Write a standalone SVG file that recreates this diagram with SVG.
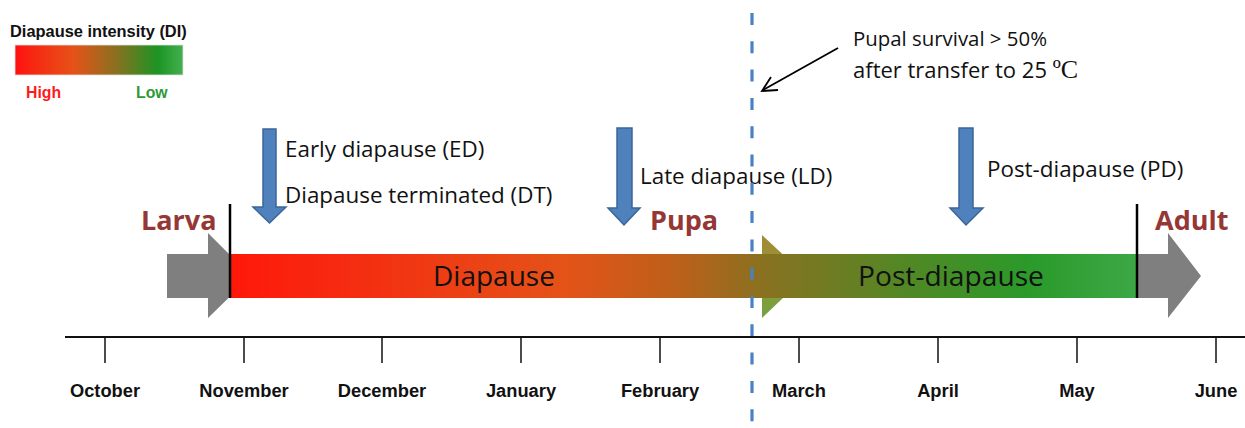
<svg xmlns="http://www.w3.org/2000/svg" width="1245" height="428" viewBox="0 0 1245 428">
<defs>
<linearGradient id="gBar" x1="230" y1="0" x2="1137" y2="0" gradientUnits="userSpaceOnUse">
<stop offset="0" stop-color="#ff180a"/>
<stop offset="0.12" stop-color="#f62a10"/>
<stop offset="0.37" stop-color="#e45318"/>
<stop offset="0.5" stop-color="#b9611a"/>
<stop offset="0.58" stop-color="#8c7020"/>
<stop offset="0.75" stop-color="#508825"/>
<stop offset="0.88" stop-color="#2a9a2a"/>
<stop offset="1" stop-color="#3ca846"/>
</linearGradient>
<linearGradient id="gLeg" x1="0" y1="0" x2="1" y2="0">
<stop offset="0" stop-color="#ff1010"/>
<stop offset="0.12" stop-color="#f62a12"/>
<stop offset="0.35" stop-color="#e65218"/>
<stop offset="0.6" stop-color="#8a7020"/>
<stop offset="0.85" stop-color="#1c9424"/>
<stop offset="1" stop-color="#44b050"/>
</linearGradient>
<linearGradient id="gHead" x1="0" y1="0" x2="0" y2="1">
<stop offset="0" stop-color="#a68a34"/>
<stop offset="1" stop-color="#76a240"/>
</linearGradient>
<style>
.lbl{font-family:"Open Sans","Noto Sans","Liberation Sans",sans-serif;fill:#111;}
.stage{font-family:"Open Sans","Noto Sans","Liberation Sans",sans-serif;font-weight:bold;fill:#953735;font-size:27px;}
.mon{font-family:"Liberation Sans",Arial,sans-serif;font-weight:bold;font-size:18.3px;fill:#111;text-anchor:middle;}
.blue{fill:#4f81bd;stroke:#3a659a;stroke-width:1.5;}
.tick{stroke:#111;stroke-width:1.5;}
</style>
</defs>

<g id="legend">
<text x="10" y="37" font-family="Liberation Sans,Arial,sans-serif" font-weight="bold" font-size="16.4" fill="#111">Diapause intensity (DI)</text>
<rect x="15" y="45" width="168" height="30" fill="url(#gLeg)" stroke="#e0e0e0" stroke-width="0.8"/>
<text x="26" y="98" font-family="Liberation Sans,Arial,sans-serif" font-weight="bold" font-size="15.8" fill="#ff1a1a">High</text>
<text x="136" y="98" font-family="Liberation Sans,Arial,sans-serif" font-weight="bold" font-size="15.8" fill="#2e9a35">Low</text>
</g>

<g id="larva-arrow">
<polygon points="167,254 208,254 208,233 251,276 208,318 208,298 167,298" fill="#7f7f7f"/>
</g>
<g id="adult-arrow">
<polygon points="1137,254 1168,254 1168,233 1201,276 1168,318 1168,298 1137,298" fill="#7f7f7f"/>
</g>
<g id="post-head">
<polygon points="762,235 806,276 762,318" fill="url(#gHead)"/>
</g>
<g id="bar">
<rect x="230" y="254" width="907" height="44" fill="url(#gBar)"/>
<text class="lbl" x="433" y="286" font-size="28">Diapause</text>
<text class="lbl" x="858" y="286" font-size="28.2">Post-diapause</text>
</g>

<g id="stages">
<text class="stage" x="141" y="230">Larva</text>
<text class="stage" x="650" y="230">Pupa</text>
<text class="stage" x="1155" y="230">Adult</text>
</g>

<g id="markers">
<polygon class="blue" points="263,129 276,129 276,207 286,207 269.5,223 253,207 263,207"/>
<polygon class="blue" points="617,128 632,128 632,208 640,208 624,225 608,208 617,208"/>
<polygon class="blue" points="959,128 973,128 973,208 983,208 966,225 950,208 959,208"/>
<text class="lbl" x="285" y="157" font-size="22.4">Early diapause (ED)</text>
<text class="lbl" x="285" y="203" font-size="22.4">Diapause terminated (DT)</text>
<text class="lbl" x="640" y="184" font-size="22.4">Late diapause (LD)</text>
<text class="lbl" x="987" y="177" font-size="22.4">Post-diapause (PD)</text>
</g>

<g id="note">
<text class="lbl" x="853" y="46" font-size="20.4">Pupal survival &gt; 50%</text>
<text class="lbl" x="853" y="78" font-size="22">after transfer to 25 <tspan font-family="Liberation Serif,Times New Roman,serif" font-size="26">ºC</tspan></text>
</g>

<g id="connectors">
<line x1="230" y1="204" x2="230" y2="298" stroke="#000" stroke-width="2.5"/>
<line x1="1137" y1="204" x2="1137" y2="298" stroke="#000" stroke-width="2.5"/>
<line x1="752" y1="13" x2="752" y2="428" stroke="#4a80c4" stroke-width="3.2" stroke-dasharray="12 16.3"/>
<line x1="838" y1="48" x2="763" y2="90" stroke="#000" stroke-width="1.8"/>
<polyline points="771,77 762,91 778,90" fill="none" stroke="#000" stroke-width="1.8"/>
<line x1="65" y1="337" x2="1245" y2="337" stroke="#111" stroke-width="2.2"/>
<line class="tick" x1="105" y1="337" x2="105" y2="363"/>
<line class="tick" x1="244" y1="337" x2="244" y2="363"/>
<line class="tick" x1="382" y1="337" x2="382" y2="363"/>
<line class="tick" x1="521" y1="337" x2="521" y2="363"/>
<line class="tick" x1="660" y1="337" x2="660" y2="363"/>
<line class="tick" x1="799" y1="337" x2="799" y2="363"/>
<line class="tick" x1="938" y1="337" x2="938" y2="363"/>
<line class="tick" x1="1077" y1="337" x2="1077" y2="363"/>
<line class="tick" x1="1216" y1="337" x2="1216" y2="363"/>
</g>

<g id="months">
<text class="mon" x="105" y="397">October</text>
<text class="mon" x="244" y="397">November</text>
<text class="mon" x="382" y="397">December</text>
<text class="mon" x="521" y="397">January</text>
<text class="mon" x="660" y="397">February</text>
<text class="mon" x="799" y="397">March</text>
<text class="mon" x="938" y="397">April</text>
<text class="mon" x="1077" y="397">May</text>
<text class="mon" x="1216" y="397">June</text>
</g>
</svg>
